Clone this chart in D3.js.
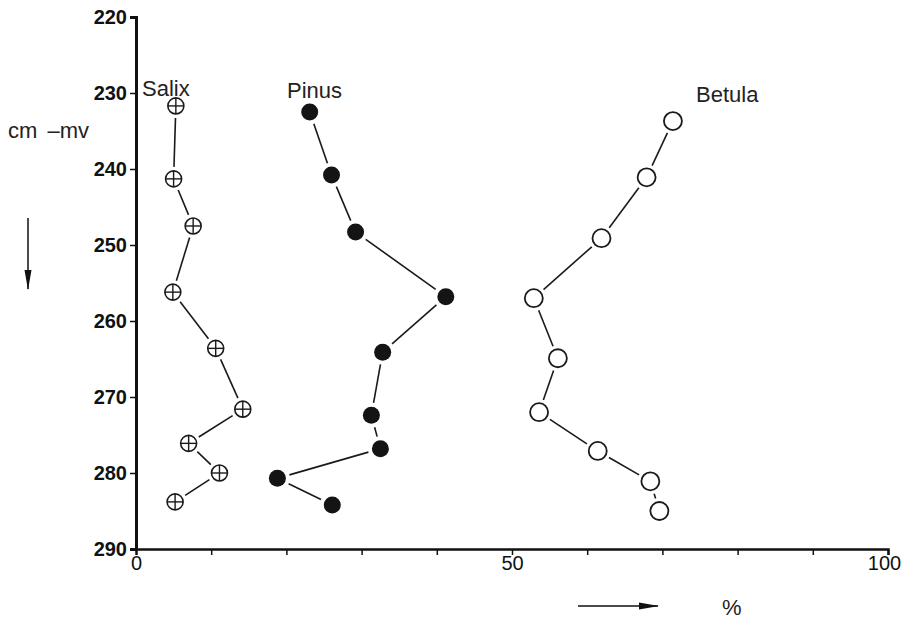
<!DOCTYPE html>
<html>
<head>
<meta charset="utf-8">
<script src="https://cdn.jsdelivr.net/npm/d3@7"></script>
<style>
  body { margin: 0; background: #fff; }
  svg { display: block; }
  .axis text { font-family: "Liberation Sans", Arial, sans-serif; font-size: 20px; fill: #111; }
  .yaxis text { font-weight: bold; }
  .lbl { font-family: "Liberation Sans", Arial, sans-serif; font-size: 22px; fill: #222; }
</style>
</head>
<body>
<div id="chartDiv"></div>
<script>
// depth (cm below surface) and percentages
var salixDepth = [231.7, 241.3, 247.5, 256.2, 263.6, 271.6, 276.1, 280.0, 283.8];
var salixPct   = [5.3, 5.0, 7.6, 4.9, 10.6, 14.2, 7.0, 11.1, 5.2];

var pinusDepth = [232.5, 240.8, 248.3, 256.8, 264.1, 272.4, 276.8, 280.7, 284.2];
var pinusPct   = [23.1, 26.0, 29.2, 41.2, 32.8, 31.3, 32.5, 18.8, 26.1];

var betulaDepth = [233.7, 241.1, 249.1, 257.0, 264.9, 272.0, 277.1, 281.1, 285.0];
var betulaPct   = [71.4, 67.9, 61.9, 52.9, 56.1, 53.6, 61.4, 68.4, 69.6];

var depthTicks = [220, 230, 240, 250, 260, 270, 280, 290];
var pctTicks = [0, 10, 20, 30, 40, 50, 60, 70, 80, 90, 100];
var pctLabels = [0, 50, 100];

var margin = {top: 17, left: 136},
    width = 752,
    height = 532;

var svg = d3.select("#chartDiv")
  .append("svg")
    .attr("width", 903)
    .attr("height", 620)
  .append("g")
    .attr("transform", "translate(" + margin.left + "," + margin.top + ")");

var x = d3.scaleLinear().domain([0, 100]).range([0, width]);
var y = d3.scaleLinear().domain([220, 290]).range([0, height]);

// Y axis (depth)
var yAxis = svg.append("g")
  .attr("class", "axis yaxis")
  .call(d3.axisLeft(y).tickValues(depthTicks).tickSize(6).tickPadding(3));
yAxis.select(".domain").attr("stroke-width", 3).attr("stroke", "#111");
yAxis.selectAll(".tick line").attr("stroke-width", 1.5).attr("stroke", "#111");

// X axis (percent)
var xAxis = svg.append("g")
  .attr("class", "axis xaxis")
  .attr("transform", "translate(0," + height + ")")
  .call(d3.axisBottom(x).tickValues(pctTicks).tickSize(6).tickPadding(1)
    .tickFormat(function(d) { return pctLabels.indexOf(d) >= 0 ? d : ""; }));
xAxis.select(".domain").attr("stroke-width", 2.5).attr("stroke", "#111");
xAxis.selectAll(".tick line").attr("stroke-width", 1.5).attr("stroke", "#111");
xAxis.selectAll(".tick").filter(function(d) { return d === 0; }).select("line").remove();
xAxis.selectAll(".tick").filter(function(d) { return d === 100; }).select("text").attr("dx", -4);

function series(depths, pcts) {
  return depths.map(function(d, i) { return {depth: d, pct: pcts[i]}; });
}

// connecting segments, stopped short of the markers
function drawLinks(data, r) {
  for (var i = 1; i < data.length; i++) {
    var x1 = x(data[i - 1].pct), y1 = y(data[i - 1].depth),
        x2 = x(data[i].pct), y2 = y(data[i].depth);
    var dx = x2 - x1, dy = y2 - y1, len = Math.sqrt(dx * dx + dy * dy);
    var g = r + 4;
    svg.append("line")
      .attr("x1", x1 + dx / len * g).attr("y1", y1 + dy / len * g)
      .attr("x2", x2 - dx / len * g).attr("y2", y2 - dy / len * g)
      .attr("stroke", "#1a1a1a")
      .attr("stroke-width", 1.6);
  }
}

var salix = series(salixDepth, salixPct);
var pinus = series(pinusDepth, pinusPct);
var betula = series(betulaDepth, betulaPct);

drawLinks(salix, 8);
drawLinks(pinus, 8.5);
drawLinks(betula, 9);

// Salix: circle with cross
var sx = svg.selectAll(".salix").data(salix).enter().append("g")
  .attr("class", "salix")
  .attr("transform", function(d) { return "translate(" + x(d.pct) + "," + y(d.depth) + ")"; });
sx.append("circle").attr("r", 8).attr("fill", "#fff").attr("stroke", "#1a1a1a").attr("stroke-width", 1.6);
sx.append("line").attr("x1", -8).attr("x2", 8).attr("stroke", "#1a1a1a").attr("stroke-width", 1.4);
sx.append("line").attr("y1", -8).attr("y2", 8).attr("stroke", "#1a1a1a").attr("stroke-width", 1.4);

// Pinus: filled dots
svg.selectAll(".pinus").data(pinus).enter().append("circle")
  .attr("class", "pinus")
  .attr("cx", function(d) { return x(d.pct); })
  .attr("cy", function(d) { return y(d.depth); })
  .attr("r", 8.5)
  .attr("fill", "#141414");

// Betula: open circles
svg.selectAll(".betula").data(betula).enter().append("circle")
  .attr("class", "betula")
  .attr("cx", function(d) { return x(d.pct); })
  .attr("cy", function(d) { return y(d.depth); })
  .attr("r", 9)
  .attr("fill", "#fff")
  .attr("stroke", "#1a1a1a")
  .attr("stroke-width", 1.8);

// labels
var root = d3.select("svg");
root.append("text").attr("class", "lbl").attr("x", 142).attr("y", 96).text("Salix");
root.append("text").attr("class", "lbl").attr("x", 287).attr("y", 98).text("Pinus");
root.append("text").attr("class", "lbl").attr("x", 696).attr("y", 102).text("Betula");
root.append("text").attr("class", "lbl").attr("x", 8).attr("y", 138).attr("word-spacing", 4).text("cm –mv");
root.append("text").attr("class", "lbl").attr("x", 722).attr("y", 615).text("%");

// direction arrows
var defs = root.append("defs");
defs.append("marker")
  .attr("id", "arrow")
  .attr("viewBox", "0 0 20 8")
  .attr("refX", 19).attr("refY", 4)
  .attr("markerWidth", 20).attr("markerHeight", 8)
  .attr("markerUnits", "userSpaceOnUse")
  .attr("orient", "auto")
  .append("path")
    .attr("d", "M0,0.5 L20,4 L0,7.5 Z")
    .attr("fill", "#111");

root.append("line")
  .attr("x1", 28).attr("y1", 218).attr("x2", 28).attr("y2", 289)
  .attr("stroke", "#111").attr("stroke-width", 1.5)
  .attr("marker-end", "url(#arrow)");
root.append("line")
  .attr("x1", 578).attr("y1", 606).attr("x2", 658).attr("y2", 606)
  .attr("stroke", "#111").attr("stroke-width", 1.5)
  .attr("marker-end", "url(#arrow)");
</script>
</body>
</html>
